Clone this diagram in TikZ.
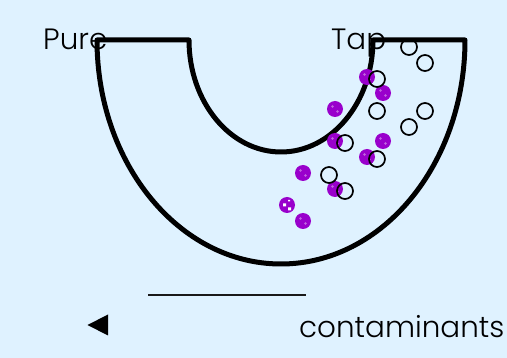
\documentclass[tikz,border=0pt]{standalone}
\usepackage{fontspec}
\setmainfont{Poppins}[UprightFont=* Light]
\definecolor{paper}{HTML}{DFF2FF}
\definecolor{solute}{HTML}{9900CC}
\tikzset{
  membrane/.style={draw=black,line width=5pt,line join=round,line cap=round},
  dirty/.style={circle,fill=solute,minimum size=16pt,inner sep=0pt},
  clean/.style={circle,draw=black,line width=1.7pt,minimum size=16pt,inner sep=0pt},
  label/.style={font=\fontsize{29.4}{30}\selectfont,anchor=base west,inner sep=0pt,text=black}
}
\begin{document}
\begin{tikzpicture}[x=1pt,y=-1pt]
  \useasboundingbox (0,0) rectangle (507,358);
  \fill[paper] (0,0) rectangle (507,358);
  % labels sit behind the tube wall
  \node[label] (pure) at (43,50) {Pure};
  \node[label] (tap) at (331,50) {Tap};
  \node[label] (cont) at (299,338) {contaminants};
  % U-shaped tube
  \draw[membrane] (97,40) arc[start angle=180,end angle=0,x radius=184,y radius=224]
    -- (373,40) arc[start angle=0,end angle=180,x radius=92,y radius=112] -- cycle;
  % contaminant particles with their small highlights
  \foreach \px/\py [count=\i] in {367/77,383/93,335/109,335/141,383/141,367/157,303/173,335/189,303/221}{
    \node[dirty] (p\i) at (\px,\py) {};
    \fill[white,opacity=.4] (\px-2.5,\py-2.5) circle (1.3pt) (\px+2.5,\py+2.5) circle (1.3pt);
  }
  \node[dirty] (p10) at (287,205) {};
  \fill[white] (283,203.5) rectangle +(3,3) (288,207.5) rectangle +(3,3) (288,200) rectangle +(2,1.5);
  % water particles
  \foreach \px/\py [count=\i] in {409/47,425/63,377/79,377/111,425/111,409/127,345/143,377/159,329/175,345/191}{
    \node[clean] (w\i) at (\px,\py) {};
  }
  % legend rule and marker
  \coordinate (ruleL) at (148,295);
  \coordinate (ruleR) at (306,295);
  \draw[line width=1.8pt,black!90] (ruleL) -- (ruleR);
  \fill[black] (87.5,325) -- (108,314.5) -- (108,335.5) -- cycle;
\end{tikzpicture}
\end{document}
